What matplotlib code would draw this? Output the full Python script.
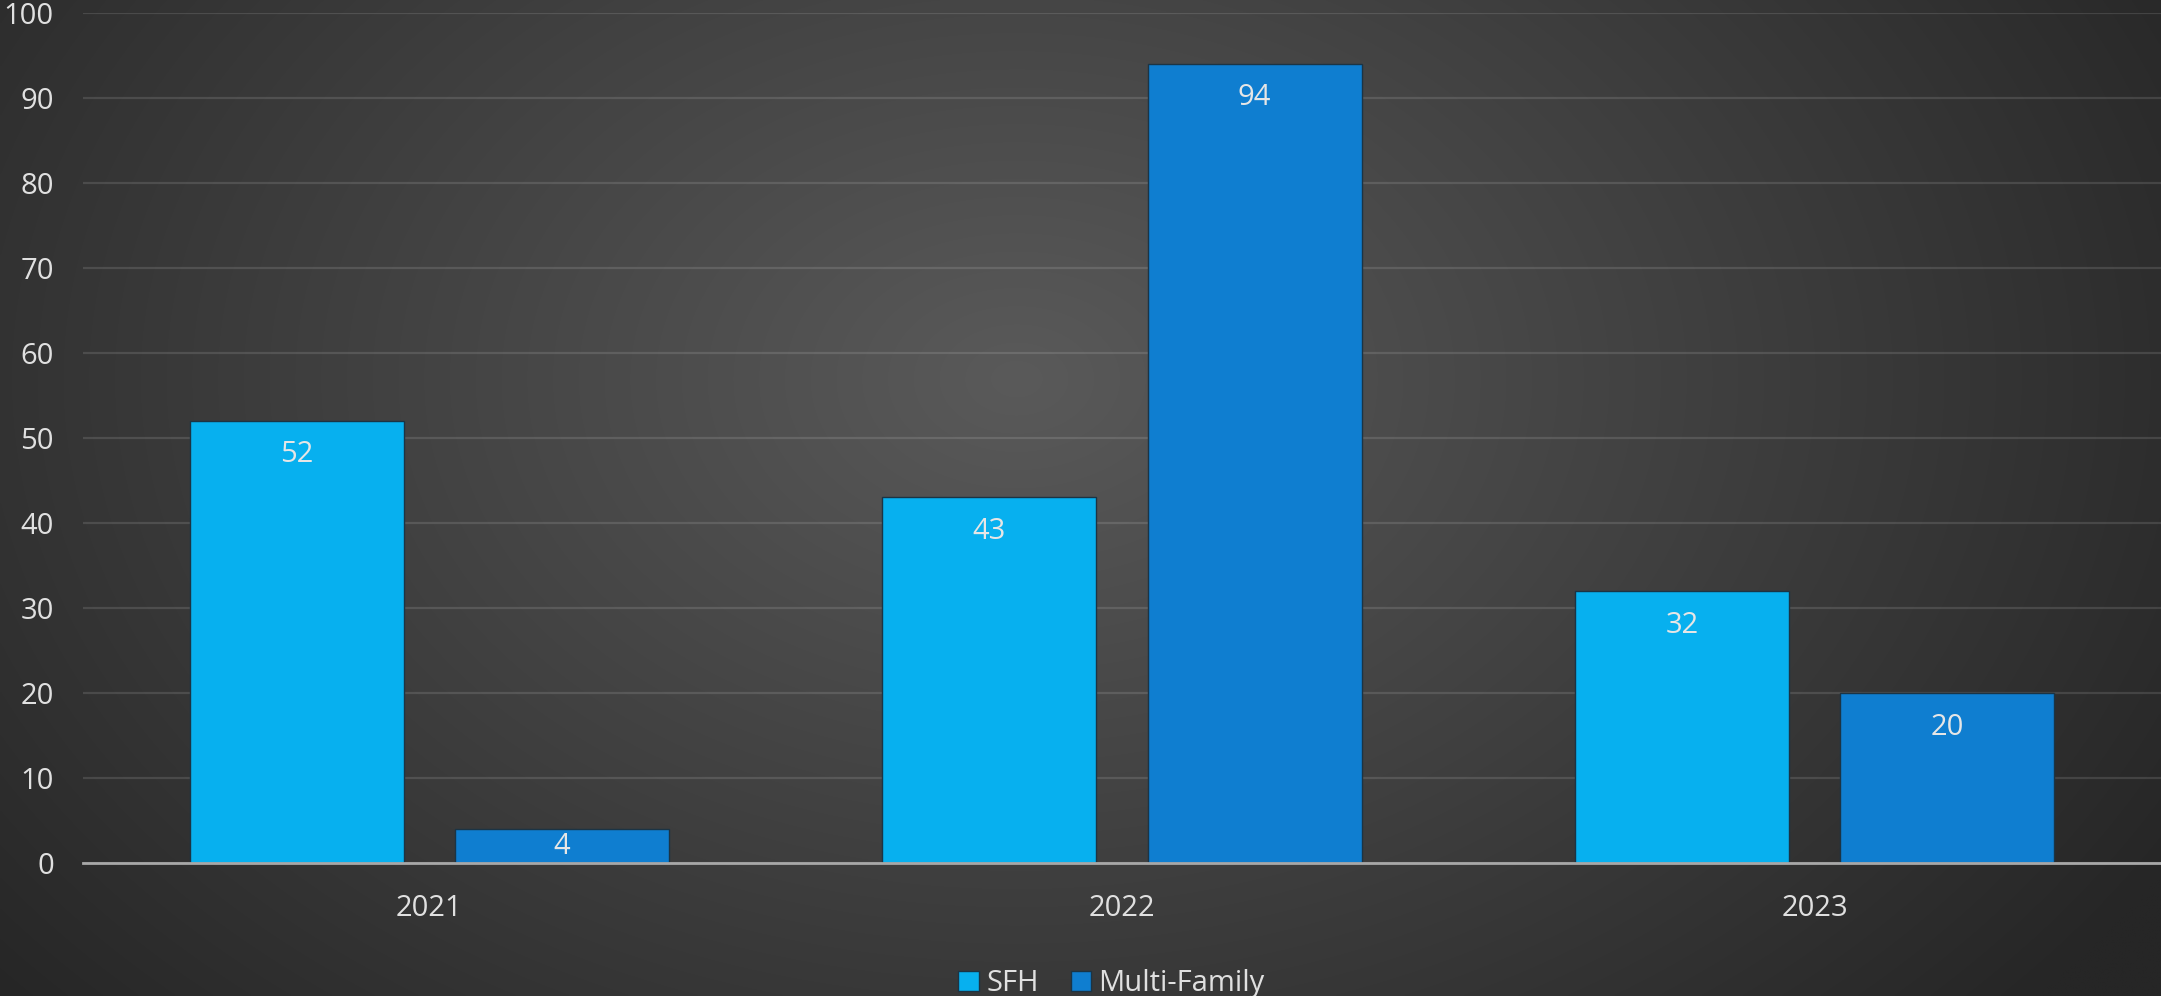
#!/usr/bin/env python3

import numpy as np
import matplotlib
matplotlib.use("Agg")
import matplotlib.pyplot as plt
from matplotlib.patches import Patch

years = ["2021", "2022", "2023"]
sfh = [52, 43, 32]
multi_family = [4, 94, 20]
series_names = ["SFH", "Multi-Family"]
y_ticks = [0, 10, 20, 30, 40, 50, 60, 70, 80, 90, 100]

colors = {
    "SFH": "#07B0EF",
    "Multi-Family": "#0F7ED0",
}

plt.rcParams["font.family"] = ["Open Sans", "DejaVu Sans"]

fig = plt.figure(figsize=(21.61, 9.96), dpi=100)

# radial gradient background
bg = fig.add_axes([0, 0, 1, 1], zorder=-10)
h, w = 400, 868
yy, xx = np.mgrid[0:h, 0:w]
cx, cy = w * 0.47, h * 0.38
r = np.sqrt(((xx - cx) / (w * 0.62)) ** 2 + ((yy - cy) / (h * 0.95)) ** 2)
r = np.clip(r, 0, 1)
inner = np.array([0x5A, 0x5A, 0x5A]) / 255
outer = np.array([0x26, 0x26, 0x26]) / 255
img = inner[None, None, :] * (1 - r[..., None]) + outer[None, None, :] * r[..., None]
bg.imshow(img, aspect="auto", extent=[0, 1, 0, 1], interpolation="bilinear")
bg.axis("off")

ax = fig.add_axes([0.0384, 0.1335, 0.9616, 0.8535])
ax.set_facecolor("none")

x = np.arange(len(years))
width = 0.309
offset = 0.1915

bars1 = ax.bar(x - offset, sfh, width, color=colors["SFH"],
               edgecolor="#1b3445", linewidth=1.0, zorder=3)
bars2 = ax.bar(x + offset, multi_family, width, color=colors["Multi-Family"],
               edgecolor="#1b3445", linewidth=1.0, zorder=3)

# value labels inside bar tops
for bars in (bars1, bars2):
    for bar in bars:
        height = bar.get_height()
        ax.text(bar.get_x() + bar.get_width() / 2, height - min(4, height / 2),
                f"{height:.0f}", ha="center", va="center",
                fontsize=21, color="#E6E6E6", zorder=4)

ax.set_xlim(-0.5, 2.5)
ax.set_ylim(0, 100)
ax.set_yticks(y_ticks)
ax.set_xticks(x)
ax.set_xticklabels(years)

ax.tick_params(axis="y", length=0, pad=21, labelsize=21, labelcolor="#E0E0E0")
ax.tick_params(axis="x", length=0, pad=22, labelsize=21, labelcolor="#E0E0E0")
for lbl in ax.get_yticklabels():
    lbl.set_verticalalignment("center_baseline")

ax.grid(axis="y", color="#FFFFFF", alpha=0.12, linewidth=1.6, zorder=0)
ax.set_axisbelow(True)

for side in ("top", "right", "left"):
    ax.spines[side].set_visible(False)
ax.spines["bottom"].set_color("#A8A8A8")
ax.spines["bottom"].set_linewidth(2)
ax.spines["bottom"].set_zorder(5)

handles = [Patch(facecolor=colors[n], edgecolor="#1b3445", label=n) for n in series_names]
leg = ax.legend(handles=handles, loc="lower center", bbox_to_anchor=(0.495, -0.19),
                ncol=2, frameon=False, fontsize=21, handlelength=0.7,
                handleheight=0.7, handletextpad=0.25, columnspacing=1.1,
                labelcolor="#E0E0E0")

fig.savefig("out.png", dpi=100)
print("Saved: out.png")
